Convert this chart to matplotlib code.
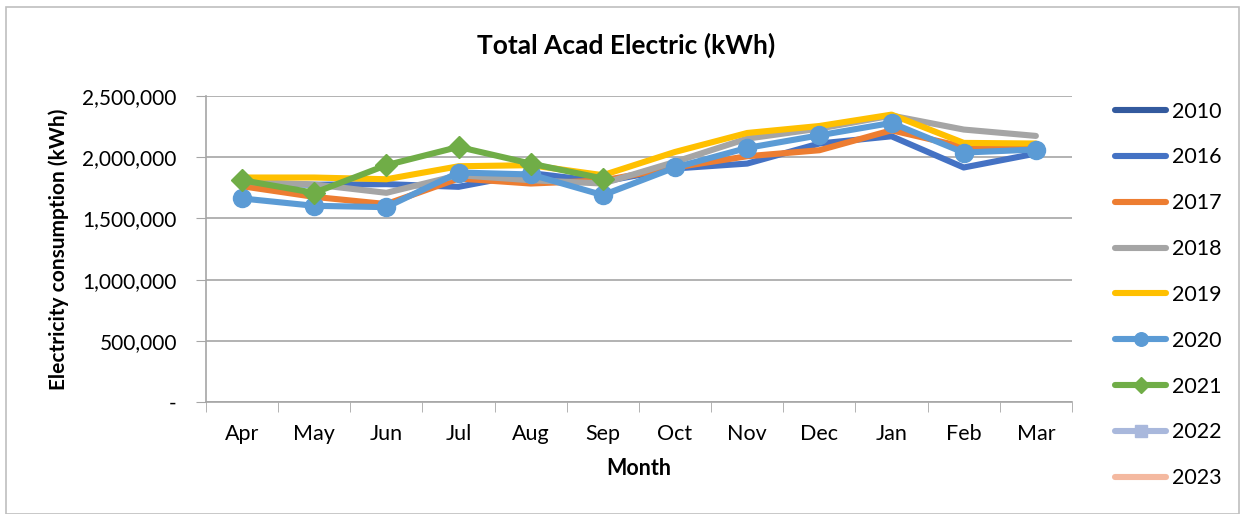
import matplotlib.pyplot as plt
import numpy as np
from matplotlib.ticker import FuncFormatter

plt.rcParams['font.family'] = ['Lato', 'DejaVu Sans']

# Data (kWh)
months = ['Apr', 'May', 'Jun', 'Jul', 'Aug', 'Sep', 'Oct', 'Nov', 'Dec', 'Jan', 'Feb', 'Mar']
years = ['2010', '2016', '2017', '2018', '2019', '2020', '2021', '2022', '2023']

y2010 = [None] * 12
y2016 = [1790000, 1775000, 1780000, 1758000, 1870000, 1800000,
         1908000, 1948000, 2112000, 2171000, 1916000, 2030000]
y2017 = [1763000, 1676000, 1617000, 1826000, 1785000, 1810000,
         1916000, 2008000, 2057000, 2220000, 2084000, 2084000]
y2018 = [1800000, 1777000, 1709000, 1853000, 1812000, 1785000,
         1962000, 2152000, 2234000, 2340000, 2226000, 2174000]
y2019 = [1834000, 1834000, 1820000, 1926000, 1935000, 1853000,
         2043000, 2198000, 2255000, 2348000, 2117000, 2112000]
y2020 = [1663000, 1603000, 1592000, 1875000, 1859000, 1690000,
         1916000, 2076000, 2179000, 2280000, 2038000, 2063000]
y2021 = [1812000, 1709000, 1935000, 2084000, 1948000, 1826000,
         None, None, None, None, None, None]
y2022 = [None] * 12
y2023 = [None] * 12

series = [y2010, y2016, y2017, y2018, y2019, y2020, y2021, y2022, y2023]
colors = ['#335A9E', '#4472C4', '#ED7D31', '#A5A5A5', '#FFC000',
          '#5B9BD5', '#70AD47', '#A9B8DC', '#F4B9A0']
markers = [None, None, None, None, None, 'o', 'D', 's', None]
msizes = [0, 0, 0, 0, 0, 13, 11, 11, 0]

fig = plt.figure(figsize=(12.43, 5.14), dpi=100)
ax = fig.add_axes([0.1657, 0.2179, 0.6967, 0.5953])

x = np.arange(len(months))
for lbl, vals, c, m, ms in zip(years, series, colors, markers, msizes):
    v = np.array([np.nan if a is None else a for a in vals], dtype=float)
    ax.plot(x, v, color=c, lw=4.4, marker=m, markersize=ms,
            solid_capstyle='round', solid_joinstyle='round', label=lbl)

ax.set_xlim(-0.5, 11.5)
ax.set_ylim(0, 2500000)
ax.set_yticks(np.arange(0, 2500001, 500000))
ax.yaxis.set_major_formatter(FuncFormatter(lambda v, p: '-' if v == 0 else f'{int(v):,}'))
ax.set_xticks(x)
ax.set_xticklabels(months)
ax.set_xticks(np.arange(-0.5, 12, 1), minor=True)
ax.tick_params(axis='x', which='major', length=0, pad=16, labelsize=15.5)
ax.tick_params(axis='x', which='minor', length=7, color='#a6a6a6')
ax.tick_params(axis='y', length=7, color='#a6a6a6', labelsize=15, pad=14)

ax.grid(axis='y', color='#a6a6a6', lw=1.2)
ax.set_axisbelow(True)
for s in ['top', 'right']:
    ax.spines[s].set_visible(False)
for s in ['left', 'bottom']:
    ax.spines[s].set_color('#a6a6a6')
    ax.spines[s].set_linewidth(1.2)

ax.set_xlabel('Month', fontsize=15.5, fontweight='bold', labelpad=10)
ax.set_ylabel('Electricity consumption (kWh)', fontsize=15, fontweight='bold', labelpad=10)
fig.text(0.504, 0.912, 'Total Acad Electric (kWh)', ha='center', va='center',
         fontsize=19, fontweight='bold')

leg = ax.legend(loc='upper left', bbox_to_anchor=(1.027, 1.045), frameon=False,
                fontsize=15.5, handlelength=2.4, labelspacing=1.2, markerscale=0.75,
                handletextpad=0.25)

# outer chart border
fig.patches.append(plt.Rectangle((0.005, 0.0), 0.992, 0.986, transform=fig.transFigure,
                                 fill=False, edgecolor='#bfbfbf', lw=1.2))

fig.savefig('out.png', dpi=100)
